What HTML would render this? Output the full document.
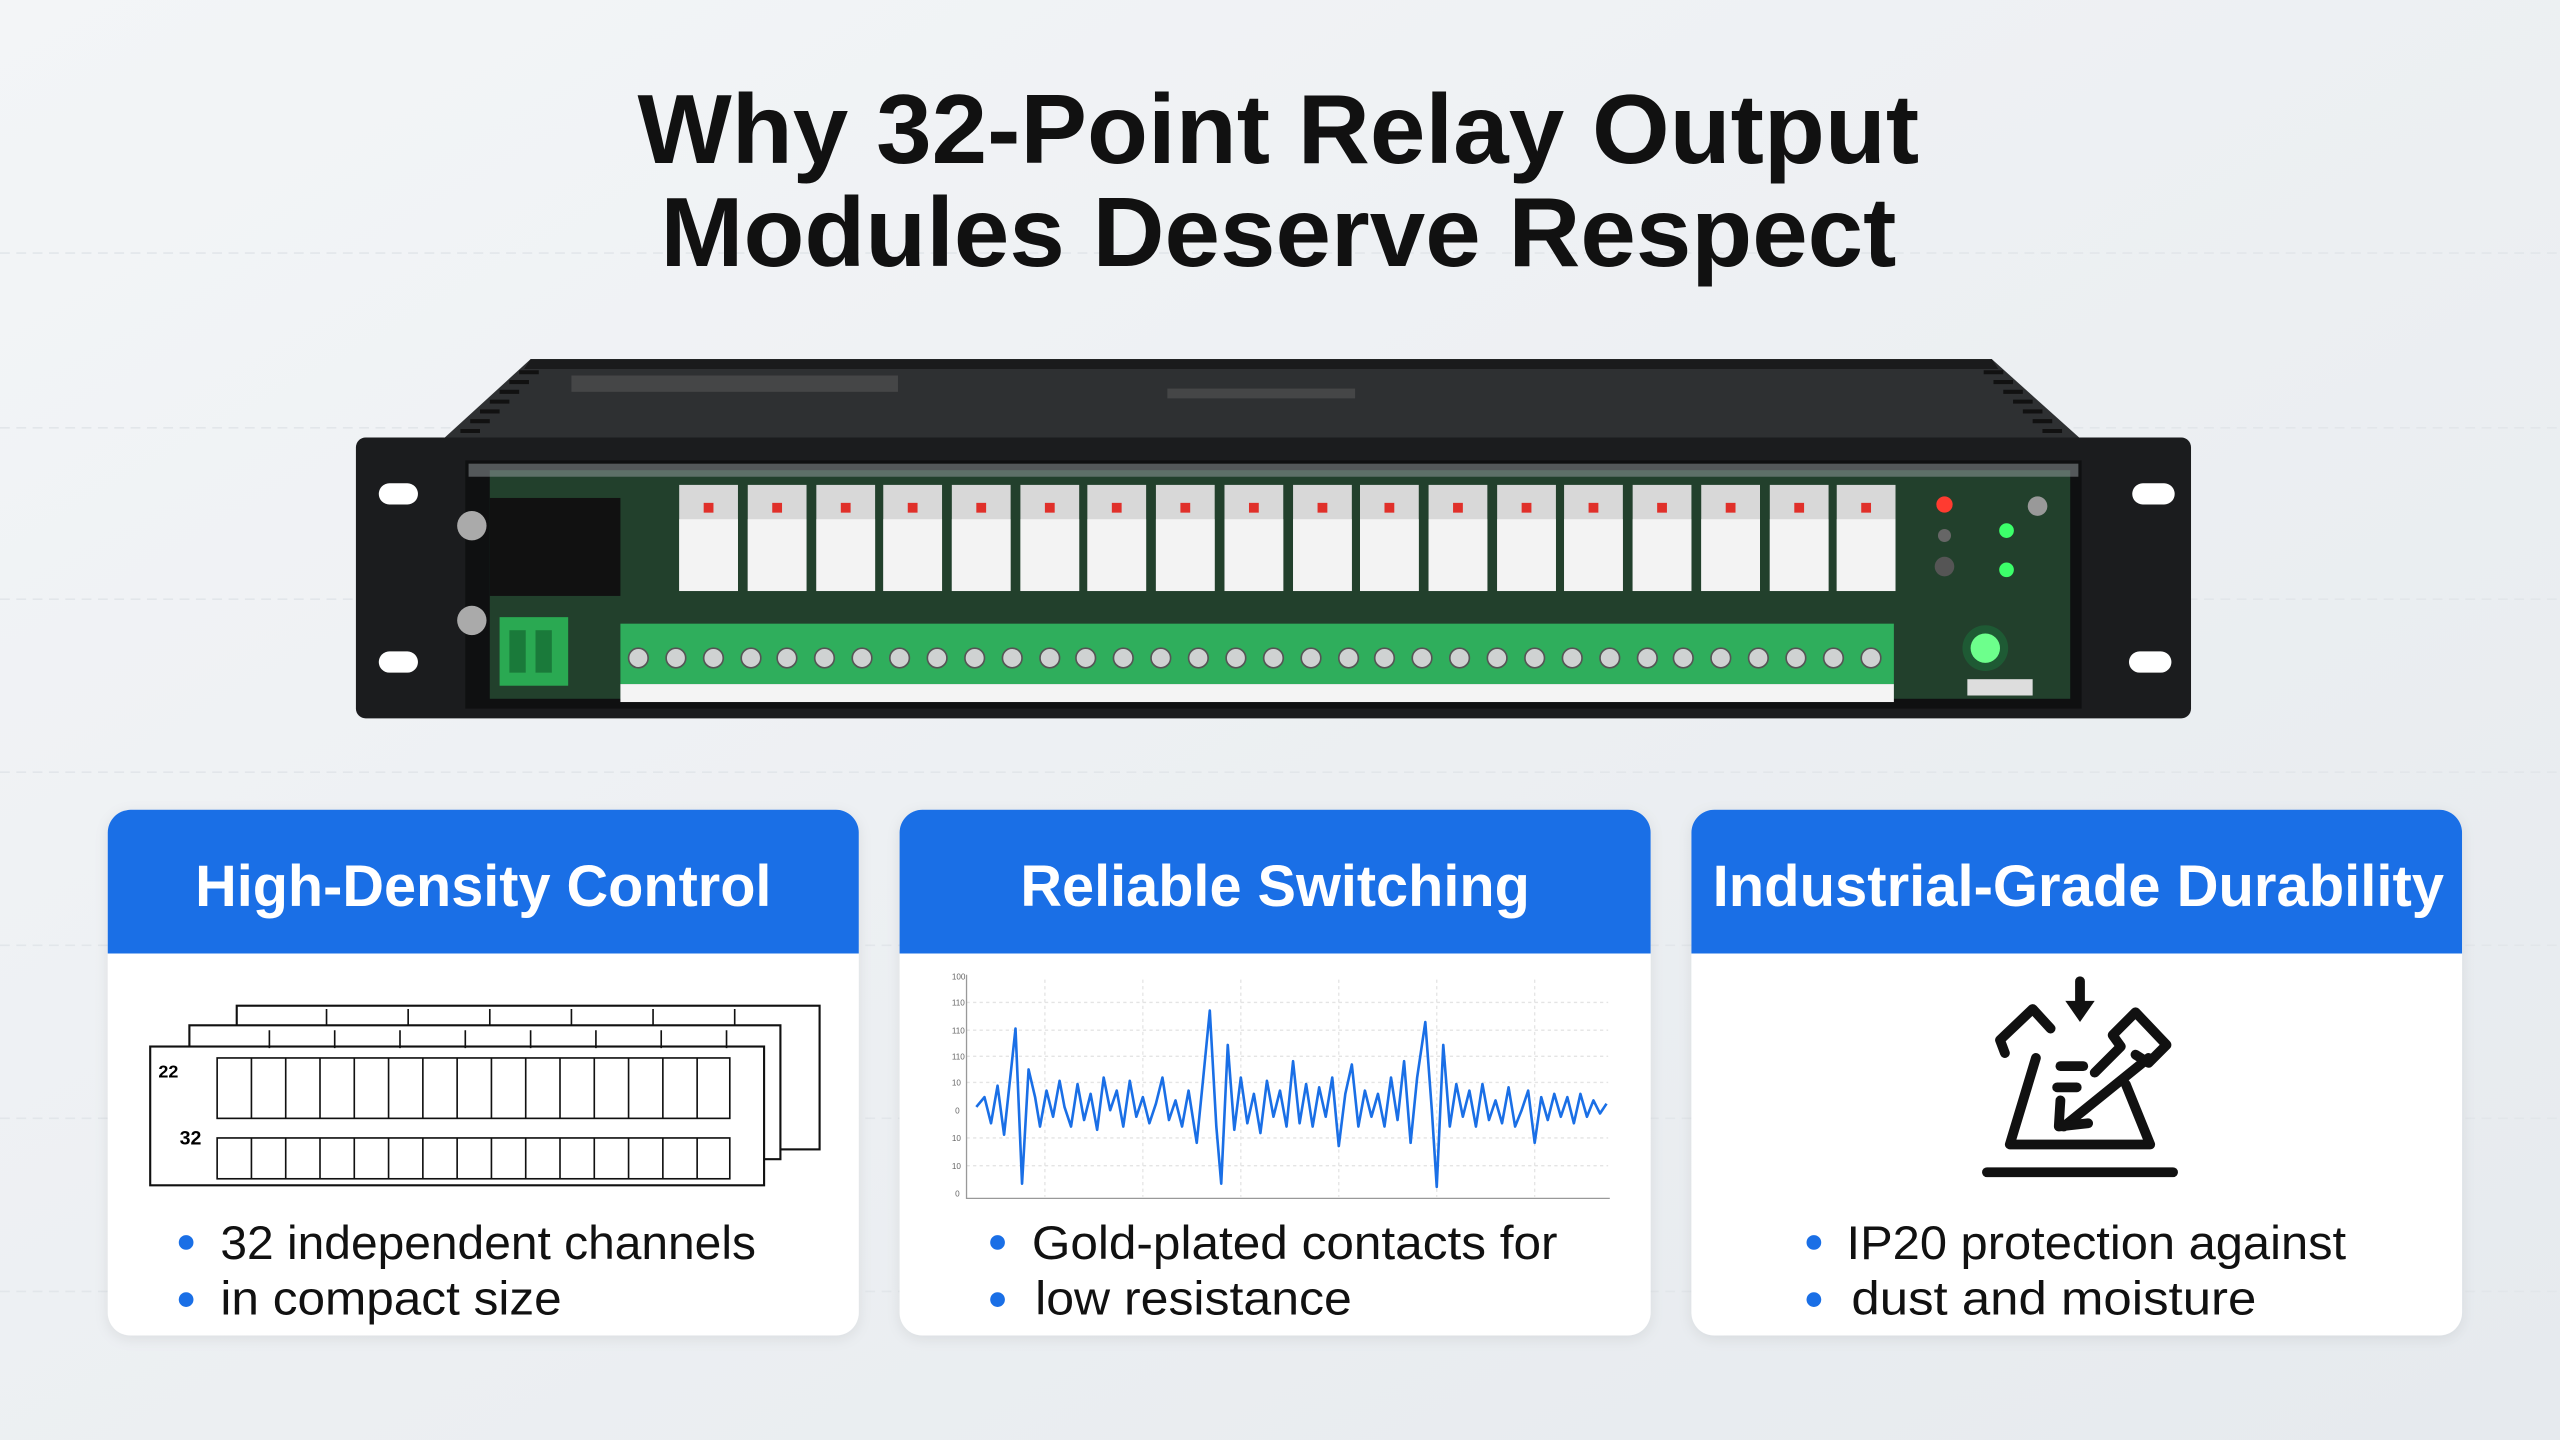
<!DOCTYPE html>
<html><head><meta charset="utf-8"><style>
html,body{margin:0;padding:0;width:2560px;height:1440px;overflow:hidden;background:#eef1f4}
svg{display:block}
text{font-family:"Liberation Sans","DejaVu Sans",sans-serif}
</style></head><body>
<svg width="2560" height="1440" viewBox="0 0 1568 882" xmlns="http://www.w3.org/2000/svg">
<defs>
<linearGradient id="bg" x1="0" y1="0" x2="1" y2="1"><stop offset="0" stop-color="#f3f5f7"/><stop offset="1" stop-color="#e6eaee"/></linearGradient>
<filter id="sh" x="-5%" y="-5%" width="110%" height="115%"><feDropShadow dx="0" dy="2" stdDeviation="4" flood-color="#000" flood-opacity="0.08"/></filter>
</defs>
<rect width="1568" height="882" fill="url(#bg)"/>
<g stroke="#e2e6ea" stroke-width="1" stroke-dasharray="6 4">
<line x1="0" y1="155" x2="1568" y2="155"/><line x1="0" y1="262" x2="1568" y2="262"/><line x1="0" y1="367" x2="1568" y2="367"/><line x1="0" y1="473" x2="1568" y2="473"/><line x1="0" y1="579" x2="1568" y2="579"/><line x1="0" y1="685" x2="1568" y2="685"/><line x1="0" y1="791" x2="1568" y2="791"/>
</g>
<text x="783" y="100" font-size="60" font-weight="bold" text-anchor="middle" fill="#111" textLength="785" lengthAdjust="spacingAndGlyphs">Why 32-Point Relay Output</text>
<text x="783" y="163" font-size="60" font-weight="bold" text-anchor="middle" fill="#111" textLength="757" lengthAdjust="spacingAndGlyphs">Modules Deserve Respect</text>

<!-- device -->
<polygon points="325,220 1220,220 1278,272 268,272" fill="#2e3032"/>
<polygon points="325,220 1220,220 1224,226 321,226" fill="#1a1b1c"/>
<g stroke="#111" stroke-width="2.5">
<line x1="318" y1="228" x2="330" y2="228"/><line x1="312" y1="234" x2="324" y2="234"/><line x1="306" y1="240" x2="318" y2="240"/><line x1="300" y1="246" x2="312" y2="246"/><line x1="294" y1="252" x2="306" y2="252"/><line x1="288" y1="258" x2="300" y2="258"/><line x1="282" y1="264" x2="294" y2="264"/>
<line x1="1215" y1="228" x2="1227" y2="228"/><line x1="1221" y1="234" x2="1233" y2="234"/><line x1="1227" y1="240" x2="1239" y2="240"/><line x1="1233" y1="246" x2="1245" y2="246"/><line x1="1239" y1="252" x2="1251" y2="252"/><line x1="1245" y1="258" x2="1257" y2="258"/><line x1="1251" y1="264" x2="1263" y2="264"/>
</g>
<rect x="350" y="230" width="200" height="10" fill="#555" opacity="0.6"/>
<rect x="715" y="238" width="115" height="6" fill="#555" opacity="0.6"/>
<rect x="218" y="268" width="1124" height="172" rx="6" fill="#1b1c1e"/>
<rect x="232" y="296" width="24" height="13" rx="6.5" fill="#fff"/>
<rect x="232" y="399" width="24" height="13" rx="6.5" fill="#fff"/>
<rect x="1306" y="296" width="26" height="13" rx="6.5" fill="#fff"/>
<rect x="1304" y="399" width="26" height="13" rx="6.5" fill="#fff"/>
<rect x="285" y="282" width="990" height="152" fill="#0f1011"/>
<rect x="300" y="288" width="968" height="140" fill="#22402c"/>
<rect x="287" y="284" width="986" height="8" fill="#9aa0a4" opacity="0.5"/>
<rect x="300" y="305" width="80" height="60" fill="#111"/>
<circle cx="289" cy="322" r="9" fill="#aaa"/><circle cx="289" cy="380" r="9" fill="#aaa"/>
<rect x="306" y="378" width="42" height="42" fill="#2aa952"/>
<rect x="312" y="386" width="10" height="26" fill="#1a7a3a"/><rect x="328" y="386" width="10" height="26" fill="#1a7a3a"/>
<g id="relays">
<g fill="#d8d8d8"><rect x="416" y="297" width="36" height="65"/><rect x="458" y="297" width="36" height="65"/><rect x="500" y="297" width="36" height="65"/><rect x="541" y="297" width="36" height="65"/><rect x="583" y="297" width="36" height="65"/><rect x="625" y="297" width="36" height="65"/><rect x="666" y="297" width="36" height="65"/><rect x="708" y="297" width="36" height="65"/><rect x="750" y="297" width="36" height="65"/><rect x="792" y="297" width="36" height="65"/><rect x="833" y="297" width="36" height="65"/><rect x="875" y="297" width="36" height="65"/><rect x="917" y="297" width="36" height="65"/><rect x="958" y="297" width="36" height="65"/><rect x="1000" y="297" width="36" height="65"/><rect x="1042" y="297" width="36" height="65"/><rect x="1084" y="297" width="36" height="65"/><rect x="1125" y="297" width="36" height="65"/></g>
<g fill="#f3f3f3"><rect x="416" y="318" width="36" height="44"/><rect x="458" y="318" width="36" height="44"/><rect x="500" y="318" width="36" height="44"/><rect x="541" y="318" width="36" height="44"/><rect x="583" y="318" width="36" height="44"/><rect x="625" y="318" width="36" height="44"/><rect x="666" y="318" width="36" height="44"/><rect x="708" y="318" width="36" height="44"/><rect x="750" y="318" width="36" height="44"/><rect x="792" y="318" width="36" height="44"/><rect x="833" y="318" width="36" height="44"/><rect x="875" y="318" width="36" height="44"/><rect x="917" y="318" width="36" height="44"/><rect x="958" y="318" width="36" height="44"/><rect x="1000" y="318" width="36" height="44"/><rect x="1042" y="318" width="36" height="44"/><rect x="1084" y="318" width="36" height="44"/><rect x="1125" y="318" width="36" height="44"/></g>
<g fill="#e0302a"><rect x="431" y="308" width="6" height="6"/><rect x="473" y="308" width="6" height="6"/><rect x="515" y="308" width="6" height="6"/><rect x="556" y="308" width="6" height="6"/><rect x="598" y="308" width="6" height="6"/><rect x="640" y="308" width="6" height="6"/><rect x="681" y="308" width="6" height="6"/><rect x="723" y="308" width="6" height="6"/><rect x="765" y="308" width="6" height="6"/><rect x="807" y="308" width="6" height="6"/><rect x="848" y="308" width="6" height="6"/><rect x="890" y="308" width="6" height="6"/><rect x="932" y="308" width="6" height="6"/><rect x="973" y="308" width="6" height="6"/><rect x="1015" y="308" width="6" height="6"/><rect x="1057" y="308" width="6" height="6"/><rect x="1099" y="308" width="6" height="6"/><rect x="1140" y="308" width="6" height="6"/></g>
</g>
<rect x="380" y="382" width="780" height="37" fill="#2fae5c"/>
<g fill="#cfd2d2" stroke="#555" stroke-width="1">
<circle cx="391" cy="403" r="6"/><circle cx="414" cy="403" r="6"/><circle cx="437" cy="403" r="6"/><circle cx="460" cy="403" r="6"/><circle cx="482" cy="403" r="6"/><circle cx="505" cy="403" r="6"/><circle cx="528" cy="403" r="6"/><circle cx="551" cy="403" r="6"/><circle cx="574" cy="403" r="6"/><circle cx="597" cy="403" r="6"/><circle cx="620" cy="403" r="6"/><circle cx="643" cy="403" r="6"/><circle cx="665" cy="403" r="6"/><circle cx="688" cy="403" r="6"/><circle cx="711" cy="403" r="6"/><circle cx="734" cy="403" r="6"/><circle cx="757" cy="403" r="6"/><circle cx="780" cy="403" r="6"/><circle cx="803" cy="403" r="6"/><circle cx="826" cy="403" r="6"/><circle cx="848" cy="403" r="6"/><circle cx="871" cy="403" r="6"/><circle cx="894" cy="403" r="6"/><circle cx="917" cy="403" r="6"/><circle cx="940" cy="403" r="6"/><circle cx="963" cy="403" r="6"/><circle cx="986" cy="403" r="6"/><circle cx="1009" cy="403" r="6"/><circle cx="1031" cy="403" r="6"/><circle cx="1054" cy="403" r="6"/><circle cx="1077" cy="403" r="6"/><circle cx="1100" cy="403" r="6"/><circle cx="1123" cy="403" r="6"/><circle cx="1146" cy="403" r="6"/>
</g>
<rect x="380" y="419" width="780" height="11" fill="#f4f4f4"/>
<circle cx="1191" cy="309" r="5" fill="#ff3b30"/>
<circle cx="1191" cy="328" r="4" fill="#666"/><circle cx="1191" cy="347" r="6" fill="#555"/>
<circle cx="1229" cy="325" r="4.5" fill="#3cff6a"/><circle cx="1229" cy="349" r="4.5" fill="#3cff6a"/>
<circle cx="1248" cy="310" r="6" fill="#999"/>
<circle cx="1216" cy="397" r="14" fill="#1e5a34"/><circle cx="1216" cy="397" r="9" fill="#6dff8c"/>
<rect x="1205" y="416" width="40" height="10" fill="#ddd"/>

<!-- cards -->
<g filter="url(#sh)">
<rect x="66" y="496" width="460" height="322" rx="14" fill="#fff"/>
<rect x="551" y="496" width="460" height="322" rx="14" fill="#fff"/>
<rect x="1036" y="496" width="472" height="322" rx="14" fill="#fff"/>
</g>
<path d="M66,584 V510 A14,14 0 0 1 80,496 H512 A14,14 0 0 1 526,510 V584 Z" fill="#1a6fe6"/>
<path d="M551,584 V510 A14,14 0 0 1 565,496 H997 A14,14 0 0 1 1011,510 V584 Z" fill="#1a6fe6"/>
<path d="M1036,584 V510 A14,14 0 0 1 1050,496 H1494 A14,14 0 0 1 1508,510 V584 Z" fill="#1a6fe6"/>
<g font-size="36" font-weight="bold" fill="#fff" text-anchor="middle">
<text x="296" y="555" textLength="353" lengthAdjust="spacingAndGlyphs">High-Density Control</text>
<text x="781" y="555" textLength="312" lengthAdjust="spacingAndGlyphs">Reliable Switching</text>
<text x="1273" y="555" textLength="448" lengthAdjust="spacingAndGlyphs">Industrial-Grade Durability</text>
</g>
<g fill="#1a6fe6"><circle cx="114" cy="761" r="4.5"/><circle cx="114" cy="796" r="4.5"/><circle cx="611" cy="761" r="4.5"/><circle cx="611" cy="796" r="4.5"/><circle cx="1111" cy="761" r="4.5"/><circle cx="1111" cy="796" r="4.5"/></g>
<g font-size="29" fill="#111">
<text x="135" y="771" textLength="328" lengthAdjust="spacingAndGlyphs">32 independent channels</text>
<text x="135" y="805" textLength="209" lengthAdjust="spacingAndGlyphs">in compact size</text>
<text x="632" y="771" textLength="322" lengthAdjust="spacingAndGlyphs">Gold-plated contacts for</text>
<text x="634" y="805" textLength="194" lengthAdjust="spacingAndGlyphs">low resistance</text>
<text x="1131" y="771" textLength="306" lengthAdjust="spacingAndGlyphs">IP20 protection against</text>
<text x="1134" y="805" textLength="248" lengthAdjust="spacingAndGlyphs">dust and moisture</text>
</g>

<!-- card1 illustration -->
<g fill="#fff" stroke="#111" stroke-width="1.3">
<rect x="145" y="616" width="357" height="88"/>
<rect x="116" y="628" width="362" height="82"/>
<rect x="92" y="641" width="376" height="85"/>
</g>
<g fill="none" stroke="#111" stroke-width="1">
<rect x="133" y="648" width="314" height="37"/>
<path d="M154,648V685M175,648V685M196,648V685M217,648V685M238,648V685M259,648V685M280,648V685M301,648V685M322,648V685M343,648V685M364,648V685M385,648V685M406,648V685M427,648V685"/>
<rect x="133" y="697" width="314" height="25"/>
<path d="M154,697V722M175,697V722M196,697V722M217,697V722M238,697V722M259,697V722M280,697V722M301,697V722M322,697V722M343,697V722M364,697V722M385,697V722M406,697V722M427,697V722"/>
<path d="M165,631V642M205,631V642M245,631V642M285,631V642M325,631V642M365,631V642M405,631V642M445,631V642M200,618V628M250,618V628M300,618V628M350,618V628M400,618V628M450,618V628"/>
</g>
<text x="97" y="660" font-size="11" font-weight="bold">22</text>
<text x="110" y="701" font-size="12" font-weight="bold">32</text>

<!-- chart -->
<g stroke="#e4e4e4" stroke-width="0.8" stroke-dasharray="2 2">
<line x1="592" y1="614" x2="985" y2="614"/><line x1="592" y1="631" x2="985" y2="631"/><line x1="592" y1="647" x2="985" y2="647"/><line x1="592" y1="663" x2="985" y2="663"/><line x1="592" y1="697" x2="985" y2="697"/><line x1="592" y1="714" x2="985" y2="714"/>
<line x1="640" y1="600" x2="640" y2="733"/><line x1="700" y1="600" x2="700" y2="733"/><line x1="760" y1="600" x2="760" y2="733"/><line x1="820" y1="600" x2="820" y2="733"/><line x1="880" y1="600" x2="880" y2="733"/><line x1="940" y1="600" x2="940" y2="733"/>
</g>
<path d="M592,597V734H986" fill="none" stroke="#999" stroke-width="0.8"/>
<g font-size="5" fill="#666"><text x="583" y="600">100</text><text x="583" y="616">110</text><text x="583" y="633">110</text><text x="583" y="649">110</text><text x="583" y="665">10</text><text x="585" y="682">0</text><text x="583" y="699">10</text><text x="583" y="716">10</text><text x="585" y="733">0</text></g>
<polyline fill="none" stroke="#1a6fe6" stroke-width="1.6" stroke-linejoin="round" points="598,678 603,672 607,688 611,665 615,695 619,658 622,630 626,725 630,655 634,672 637,690 641,668 645,684 649,662 652,678 656,690 660,664 664,686 668,670 672,692 676,660 680,680 684,668 688,690 692,662 696,684 700,672 704,688 708,676 712,660 716,686 720,674 724,690 728,668 733,700 737,660 741,619 745,690 748,725 752,640 756,692 760,660 764,688 768,670 772,694 776,662 780,684 784,668 788,690 792,650 796,688 800,664 804,690 808,666 812,684 816,660 820,702 824,670 828,652 832,690 836,668 840,684 844,670 848,690 852,660 856,686 860,650 864,700 868,660 873,626 877,680 880,727 884,640 888,690 892,664 896,684 900,668 904,690 908,664 912,686 916,674 920,688 924,666 928,690 932,680 936,668 940,700 944,672 948,686 952,670 956,684 960,672 964,688 968,670 972,684 976,674 980,682 984,676"/>

<!-- card3 icon -->
<g fill="none" stroke="#111" stroke-width="6" stroke-linecap="round" stroke-linejoin="round">
<line x1="1217" y1="718" x2="1331" y2="718"/>
<polyline points="1247,648 1231,701 1317,701 1302,664"/>
<line x1="1274" y1="601" x2="1274" y2="616"/>
<line x1="1262" y1="653" x2="1276" y2="653"/>
<line x1="1260" y1="666" x2="1272" y2="666"/>
<line x1="1316" y1="648" x2="1264" y2="690"/>
<polyline points="1262,674 1261,690 1279,688"/>
<polyline points="1228,645 1225,637 1245,618 1256,630"/>
<polyline points="1283,657 1299,641 1294,634 1308,620 1327,640 1316,651 1308,646"/>
</g>
<polygon points="1265,613 1283,613 1274,626" fill="#111"/>
</svg>
</body></html>
